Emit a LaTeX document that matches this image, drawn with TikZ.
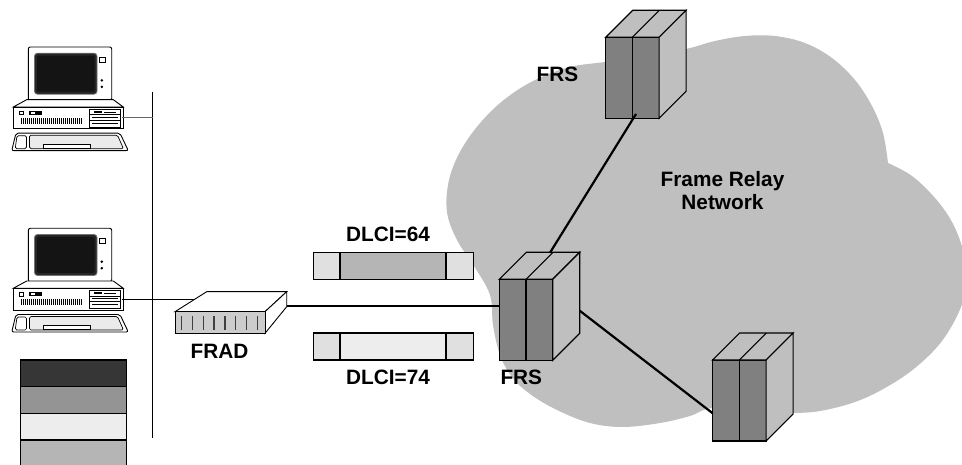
\documentclass[tikz,border=0pt]{standalone}
\usepackage{fontspec}
\setmainfont{Liberation Sans}
\definecolor{cloudgray}{gray}{0.75}
\definecolor{frontgray}{gray}{0.50}
\definecolor{sidegray}{gray}{0.75}
\definecolor{endgray}{gray}{0.88}
\definecolor{midgray}{gray}{0.71}
\definecolor{palegray}{gray}{0.93}
\definecolor{radgray}{gray}{0.80}
\definecolor{stackA}{gray}{0.21}
\definecolor{stackB}{gray}{0.58}
\definecolor{stackC}{gray}{0.93}
\definecolor{stackD}{gray}{0.71}
\tikzset{
  edge/.style={draw=black, line width=1.1pt},
  frsfront/.style={edge, fill=frontgray},
  frsside/.style={edge, fill=sidegray},
  link/.style={draw=black, line width=2.2pt},
  lanwire/.style={draw=black, line width=1pt},
  lbl/.style={font=\bfseries\fontsize{20.8}{23}\selectfont, inner sep=0pt},
  pcpart/.style={draw=black, line width=0.9pt, fill=white},
}
% a frame relay switch: two front modules with a shared top and side
\newcommand\frsunit[3]{%
  \begin{scope}[shift={(#2,#3)}]
    \path[frsfront] (0,0) rectangle (26.7,81);
    \path[frsfront] (26.7,0) rectangle (53.4,81);
    \path[frsside] (0,0) -- (27,-27) -- (80.4,-27) -- (53.4,0) -- cycle;
    \draw[edge] (26.7,0) -- (53.7,-27);
    \path[frsside] (53.4,0) -- (80.4,-27) -- (80.4,54) -- (53.4,81) -- cycle;
    \coordinate (#1) at (0,0);
  \end{scope}}
% a desktop workstation: monitor, system unit and keyboard
\newcommand\pcunit[2]{%
  \begin{scope}[shift={(0,#2)}]
    % monitor
    \path[pcpart, rounded corners=2pt] (28.3,228.3) rectangle (111.7,281.7);
    \path[draw=black!55, line width=0.8pt, fill=black!85, rounded corners=3pt] (34.5,234.5) rectangle (97,275.5);
    \path[fill=black!92, rounded corners=2pt] (37,237) rectangle (94.5,273);
    \draw[line width=0.7pt] (99,238.5) rectangle (105,243.5);
    \fill (101.8,261.7) circle (1.4);
    \fill (101.8,268.2) circle (1.4);
    \path[pcpart] (40,281.7) rectangle (45.5,284);
    \path[pcpart] (94.5,281.7) rectangle (100,284);
    % system unit
    \path[pcpart] (13.3,288.3) -- (26.7,281) -- (113.3,281) -- (123.3,288.3) -- cycle;
    \path[pcpart] (13.3,288.3) rectangle (123.3,310);
    \draw[line width=0.7pt] (19.5,292.5) rectangle (23.5,296);
    \fill (28.5,292.5) rectangle (41.5,296);
    \fill[white] (31,293.3) rectangle (35,295.2);
    \foreach \bx in {21,23,...,81} \draw[line width=0.9pt] (\bx,299.5) -- (\bx,305.2);
    \draw[line width=0.8pt] (89.3,290.7) rectangle (120,308.3);
    \draw[line width=0.7pt] (89.3,296) -- (120,296);
    \draw[line width=0.7pt] (89.3,301.5) -- (120,301.5);
    \fill (94,292.3) rectangle (102,294.3);
    \draw[line width=0.6pt] (104,293.3) -- (116,293.3);
    \draw[line width=0.6pt] (92,298.7) -- (118,298.7);
    \draw[line width=0.6pt] (92,304.8) -- (118,304.8);
    % keyboard
    \path[pcpart, rounded corners=2pt] (16,314.5) -- (120,314.5) -- (128.3,332) -- (11.7,332) -- cycle;
    \draw[line width=0.7pt, rounded corners=1.5pt] (17,317) -- (26.5,317) -- (26.5,330) -- (15.2,330) -- cycle;
    \draw[line width=0.7pt, rounded corners=1.5pt, fill=black!8] (29.5,316.5) -- (117.5,316.5) -- (123.5,330) -- (29.5,330) -- cycle;
    \path[pcpart] (43.5,325.8) rectangle (90,329.5);
    \coordinate (#1) at (121.7,299.3);
  \end{scope}}
\begin{document}
\begin{tikzpicture}[x=1pt,y=-1pt, line join=miter]
\useasboundingbox (0,0) rectangle (962,465);

% the network cloud
\begin{scope}
  \clip (0,0) rectangle (962,465);
  \fill[cloudgray] plot[smooth, tension=0.6] coordinates {
    (888,163) (912,176) (935,198) (952,222) (963,250) (967,278) (961,307)
    (942,341) (915,368) (885,388) (855,402) (820,411) (790,413) (750,412)
    (712,408) (690,416) (660,423) (623,427) (590,423) (557,410) (530,394)
    (512,377) (500,355) (493,325) (490,295) (474,266) (457,240) (447,212)
    (449,180) (461,150) (481,122) (505,99) (535,80) (570,67) (605,62)
    (645,56) (686,49) (715,41) (745,36) (775,36) (805,43) (832,58)
    (855,80) (872,106) (883,133) (888,163)} -- cycle;
\end{scope}

% LAN segment and workstations
\coordinate (bustop) at (152.7,91.7);
\coordinate (busbot) at (152.7,438.3);
\draw[lanwire] (bustop) -- (busbot);
\pcunit{pcA}{-181.3}
\pcunit{pcB}{0}
\coordinate (busA) at (152.7,118);
\draw[draw=black!60, line width=1pt] (pcA) -- (busA);

% frame relay access device
\path[pcpart] (175,311.7) -- (206.7,291.7) -- (286.7,291.7) -- (265,311.7) -- cycle;
\path[pcpart] (265,311.7) -- (286.7,291.7) -- (286.7,306.7) -- (265,333.3) -- cycle;
\path[pcpart, fill=radgray] (175,311.7) rectangle (265,333.3);
\foreach \sx in {181.7,192.3,203.3,214,225,235.7,246.7,257.3}
  \draw[line width=1.2pt, black!75] (\sx,316.5) -- (\sx,330);
\coordinate (fradin) at (193.5,299.3);
\coordinate (fradout) at (286.7,306);
\draw[lanwire] (pcB) -- (fradin);

% frame relay switches
\frsunit{frsTop}{605.7}{37.3}
\frsunit{frsMid}{499.3}{279.3}
\frsunit{frsLow}{712.7}{360}

\coordinate (frsMidIn) at (499.3,306);
\coordinate (frsMidTop) at (550,252.7);
\coordinate (frsMidSide) at (579.7,310.7);
\coordinate (frsTopOut) at (636,114);
\coordinate (frsLowIn) at (712.7,413.3);
\draw[link] (fradout) -- (frsMidIn);
\draw[link] (frsTopOut) -- (frsMidTop);
\draw[link] (frsMidSide) -- (frsLowIn);

% frames on the access link
\path[edge, fill=endgray] (313.3,252.3) rectangle (340,279.3);
\path[edge, fill=midgray] (340,252.3) rectangle (446,279.3);
\path[edge, fill=endgray] (446,252.3) rectangle (473.3,279.3);
\path[edge, fill=endgray] (313.3,333) rectangle (340,360);
\path[edge, fill=palegray] (340,333) rectangle (446,360);
\path[edge, fill=endgray] (446,333) rectangle (473.3,360);

% shade key
\path[edge, fill=stackA] (20.7,360) rectangle (126.7,386.7);
\path[edge, fill=stackB] (20.7,386.7) rectangle (126.7,413.3);
\path[edge, fill=stackC] (20.7,413.3) rectangle (126.7,440);
\path[edge, fill=stackD] (20.7,440) rectangle (126.7,470);

% labels
\node[lbl] (lblDlciA) at (388,234) {DLCI=64};
\node[lbl] (lblDlciB) at (388,377.5) {DLCI=74};
\node[lbl] (lblFrad) at (219.5,351.5) {FRAD};
\node[lbl] (lblFrsTop) at (557.5,74) {FRS};
\node[lbl] (lblFrsMid) at (521.3,377.5) {FRS};
\node[lbl, align=center] (lblNet) at (722.5,191) {Frame Relay\\Network};
\end{tikzpicture}
\end{document}
